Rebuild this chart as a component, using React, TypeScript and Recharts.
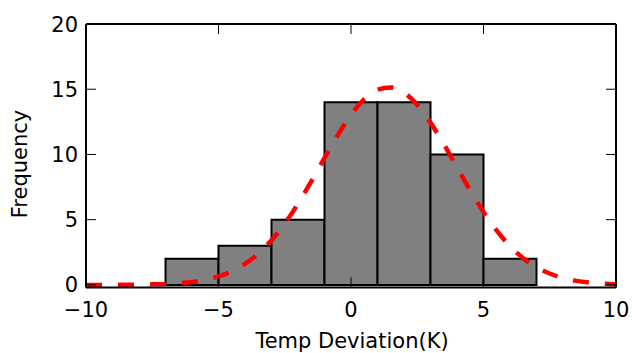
import React from 'react';
import { ComposedChart, Bar, Line, XAxis, YAxis } from 'recharts';

// Histogram bins (centers of 2-unit-wide bins) and counts
const binCenters = [-6, -4, -2, 0, 2, 4, 6];
const binCounts = [2, 3, 5, 14, 14, 10, 2];

// Fitted curve
const fitX = [
  -10, -9.5, -9, -8.5, -8, -7.5, -7, -6.5, -6, -5.5, -5, -4.5, -4, -3.5, -3, -2.5, -2, -1.5, -1, -0.5,
  0, 0.5, 1, 1.5, 2, 2.5, 3, 3.5, 4, 4.5, 5, 5.5, 6, 6.5, 7, 7.5, 8, 8.5, 9, 9.5, 10,
];
const fitY = [
  0.0, 0.0, 0.0, 0.01, 0.02, 0.04, 0.07, 0.13, 0.22, 0.39, 0.65, 1.04, 1.61, 2.39, 3.42, 4.7, 6.23, 7.93, 9.73, 11.47,
  13.03, 14.24, 14.96, 15.14, 14.74, 13.8, 12.44, 10.79, 9.01, 7.24, 5.59, 4.16, 2.98, 2.05, 1.36, 0.87, 0.53, 0.31, 0.18, 0.1, 0.05,
];

const xTicks = [-10, -5, 0, 5, 10];
const yTicks = [0, 5, 10, 15, 20];
const xLabel = 'Temp Deviation(K)';
const yLabel = 'Frequency';

const barData = binCenters.map((c, i) => ({ center: c, count: binCounts[i] }));
const fitData = fitX.map((x, i) => ({ x, fit: fitY[i] }));

const FONT = 'DejaVu Sans';
const FS = 21;
const TICK_LEN = 10;
const BOTTOM_MARGIN = 14;
const LEFT_MARGIN = 8;
const fmt = (v: number) => (v < 0 ? '\u2212' + Math.abs(v) : String(v));

const BottomTick = (p: any) => {
  const { x, y, payload } = p;
  const axisY = y - BOTTOM_MARGIN;
  return (
    <g>
      <line x1={x} y1={axisY} x2={x} y2={axisY - TICK_LEN} stroke="#000" strokeWidth={1} />
      <text x={x} y={y + 15} textAnchor="middle" fontSize={FS} fontFamily={FONT} fill="#000">
        {fmt(payload.value)}
      </text>
    </g>
  );
};

const LeftTick = (p: any) => {
  const { x, y, payload } = p;
  const axisX = x + LEFT_MARGIN;
  return (
    <g>
      <line x1={axisX} y1={y} x2={axisX + TICK_LEN} y2={y} stroke="#000" strokeWidth={1} />
      <text x={x} y={y + 7.6} textAnchor="end" fontSize={FS} fontFamily={FONT} fill="#000">
        {fmt(payload.value)}
      </text>
    </g>
  );
};

const TopTick = (p: any) => {
  const { x, y } = p;
  return <line x1={x} y1={y} x2={x} y2={y + TICK_LEN} stroke="#000" strokeWidth={1} />;
};

const RightTick = (p: any) => {
  const { x, y } = p;
  return <line x1={x} y1={y} x2={x - TICK_LEN} y2={y} stroke="#000" strokeWidth={1} />;
};

export default function App() {
  return (
    <div style={{ position: 'absolute', left: 0, top: 0, width: 632, height: 353, background: '#fff' }}>
      <ComposedChart
        width={632}
        height={353}
        data={barData}
        margin={{ top: 23, right: 15, bottom: 0, left: 0 }}
        barCategoryGap={0}
        barGap={0}
      >
        <XAxis
          xAxisId="main"
          dataKey="center"
          type="number"
          domain={[-10, 10]}
          ticks={xTicks}
          interval={0}
          allowDataOverflow
          height={65.5}
          tickSize={0}
          tickMargin={BOTTOM_MARGIN}
          tickLine={false}
          axisLine={{ stroke: '#000', strokeWidth: 2 }}
          tick={BottomTick}
          label={{
            content: () => (
              <text x={352} y={347.5} textAnchor="middle" fontSize={FS} fontFamily={FONT} fill="#000">
                {xLabel}
              </text>
            ),
          }}
        />
        <XAxis
          xAxisId="top"
          orientation="top"
          dataKey="x"
          type="number"
          domain={[-10, 10]}
          ticks={xTicks}
          interval={0}
          allowDataOverflow
          height={1}
          tickSize={0}
          tickMargin={0}
          tickLine={false}
          axisLine={{ stroke: '#000', strokeWidth: 2 }}
          tick={TopTick}
        />
        <YAxis
          yAxisId="left"
          type="number"
          domain={[-0.2, 20]}
          ticks={yTicks}
          interval={0}
          allowDataOverflow
          width={86}
          tickSize={0}
          tickMargin={LEFT_MARGIN}
          tickLine={false}
          axisLine={{ stroke: '#000', strokeWidth: 2 }}
          tick={LeftTick}
          label={{
            content: () => (
              <text
                x={26.5}
                y={164}
                transform="rotate(-90, 26.5, 164)"
                textAnchor="middle"
                fontSize={FS}
                fontFamily={FONT}
                fill="#000"
              >
                {yLabel}
              </text>
            ),
          }}
        />
        <YAxis
          yAxisId="right"
          orientation="right"
          type="number"
          domain={[-0.2, 20]}
          ticks={yTicks}
          interval={0}
          allowDataOverflow
          width={1}
          tickSize={0}
          tickMargin={0}
          tickLine={false}
          axisLine={{ stroke: '#000', strokeWidth: 2 }}
          tick={RightTick}
        />
        <Bar
          xAxisId="main"
          yAxisId="left"
          dataKey="count"
          fill="#808080"
          stroke="#000"
          strokeWidth={2}
          isAnimationActive={false}
        />
        <Line
          xAxisId="top"
          yAxisId="right"
          data={fitData}
          dataKey="fit"
          type="monotone"
          stroke="#ff0000"
          strokeWidth={4.5}
          strokeDasharray="16 16"
          dot={false}
          activeDot={false}
          isAnimationActive={false}
        />
      </ComposedChart>
    </div>
  );
}
